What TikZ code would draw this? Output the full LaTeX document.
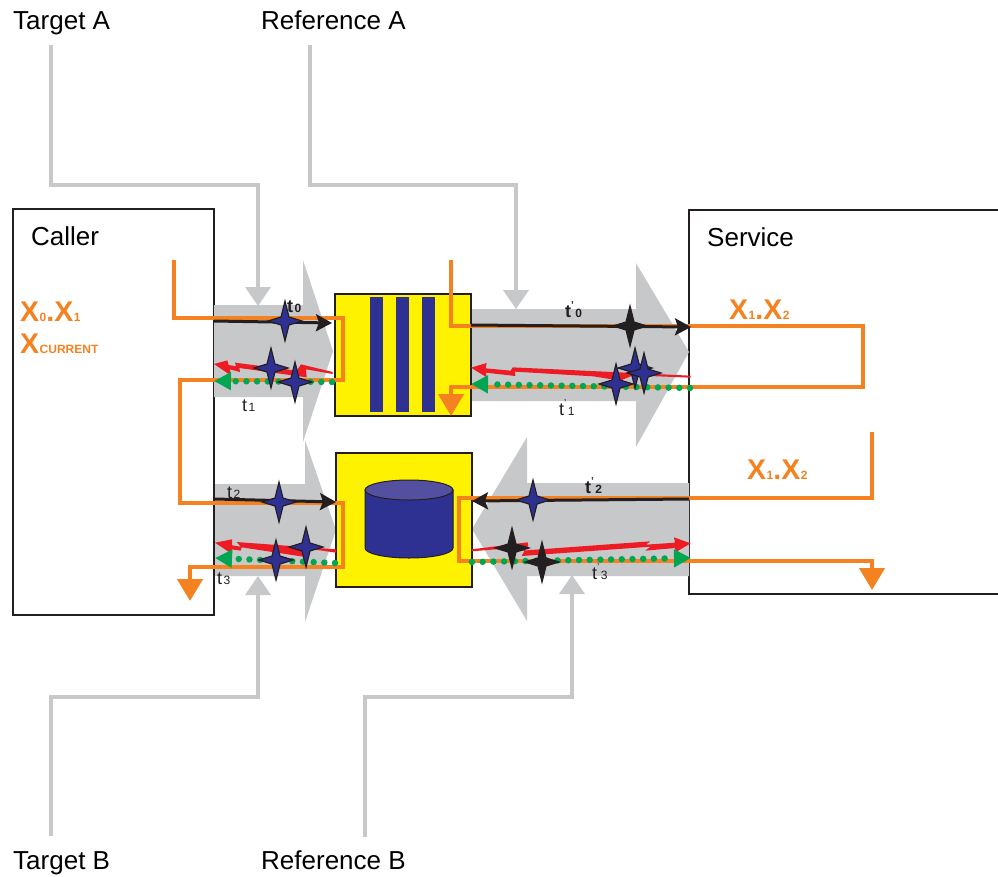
\documentclass[tikz,border=0pt]{standalone}
\usepackage{fontspec}
\setmainfont{Liberation Sans}
\usetikzlibrary{arrows.meta,calc}
\definecolor{lgray}{HTML}{C7C8CA}
\definecolor{orng}{HTML}{F58220}
\definecolor{yel}{HTML}{FFF200}
\definecolor{navy}{HTML}{2E3192}
\definecolor{navytop}{HTML}{5450A0}
\definecolor{ink}{HTML}{231F20}
\definecolor{redd}{HTML}{ED1C24}
\definecolor{grn}{HTML}{00A651}
\newcommand{\Xl}[2]{{\fontsize{28.5}{28}\selectfont\bfseries X\kern0.5pt{\fontsize{12}{12}\selectfont #1}.X\kern0.5pt{\fontsize{12}{12}\selectfont #2}}}
\newcommand{\tl}[1]{{\fontsize{18}{18}\selectfont t}\kern1.5pt{\fontsize{12}{12}\selectfont #1}}
\newcommand{\tp}[1]{{\fontsize{18}{18}\selectfont t}\raisebox{9pt}{\fontsize{10}{10}\selectfont '}\kern1.5pt{\fontsize{12}{12}\selectfont #1}}
\tikzset{
  x=1pt,y=-1pt,
  caption/.style={anchor=base west,inner sep=0,font=\fontsize{26}{30}\selectfont,text=black},
  xtext/.style={anchor=base west,inner sep=0,text=orng},
  tlabel/.style={anchor=base west,inner sep=0,text=ink},
  frame/.style={draw=ink,line width=1.5pt,fill=white,outer sep=0},
  chip/.style={draw=ink,line width=1.5pt,fill=yel,anchor=north west,inner sep=0,outer sep=0},
  bar/.style={fill=navy,anchor=north west,inner sep=0,outer sep=0,minimum width=13pt,minimum height=115pt},
  band/.style={fill=lgray},
  leader/.style={draw=lgray,line width=4pt,-{Triangle[length=19pt,width=25pt]},miter limit=10},
  route/.style={draw=orng,line width=4.5pt},
  routeend/.style={route,-{Triangle[length=22pt,width=25pt]}},
  msg/.style={draw=ink,line width=3pt,-{Stealth[length=16pt,width=17pt,inset=3pt]}},
  dots/.style={draw=grn,line width=6.5pt,dash pattern=on 0pt off 10.7pt,line cap=round,-{Triangle[length=17pt,width=17pt]}},
  bolt/.style={fill=redd},
  star/.style={draw=ink,line width=1.2pt,fill=navy,miter limit=10},
  kstar/.style={star,fill=ink},
}
\newcommand{\fourstar}[2][star]{\draw[#1] ($(#2)+(0,-20)$) -- ($(#2)+(4,-4)$) -- ($(#2)+(17,0)$) -- ($(#2)+(4,4)$) -- ($(#2)+(0,20)$) -- ($(#2)+(-4,4)$) -- ($(#2)+(-17,0)$) -- ($(#2)+(-4,-4)$) -- cycle;}
\begin{document}
\begin{tikzpicture}
\useasboundingbox (0,0) rectangle (998,876);
% outer frames
\node[frame,anchor=north west,inner sep=0,minimum width=201pt,minimum height=406pt] (caller) at (13,209) {};
\draw[ink,line width=1.5pt] (999,210) -- (689,210) -- (689,594) -- (999,594);
% gray bands
\fill[band] (214,305) -- (303,305) -- (303,260) -- (333,351) -- (303,442) -- (303,397) -- (214,397) -- cycle;
\fill[band] (470,309) -- (636,309) -- (636,263) -- (689,352) -- (636,447) -- (636,401) -- (470,401) -- cycle;
\fill[band] (215,484) -- (305,484) -- (305,440) -- (336,530) -- (305,622) -- (305,576) -- (215,576) -- cycle;
\fill[band] (689,483) -- (527,483) -- (527,437) -- (472,529) -- (527,621) -- (527,576) -- (689,576) -- cycle;
% boxes
\node[chip,minimum width=136pt,minimum height=122pt] (queue) at (335,294) {};
\node[bar] (b1) at (370,297) {};
\node[bar] (b2) at (396,297) {};
\node[bar] (b3) at (422,297) {};
\node[chip,minimum width=136pt,minimum height=134pt] (store) at (336,453) {};
\fill[navy,draw=ink,line width=1pt] (365,490) -- (365,548) arc[start angle=180,end angle=360,x radius=44,y radius=-10] -- (453,490) -- cycle;
\draw[fill=navytop,draw=ink,line width=1pt] (409,490) ellipse[x radius=44,y radius=10];
% captions
\node[caption] (ta) at (13,29) {Target A};
\node[caption] (ra) at (261,29) {Reference A};
\node[caption] (tb) at (13,869) {Target B};
\node[caption] (rb) at (261,869) {Reference B};
\node[caption] (cl) at (31,245) {Caller};
\node[caption] (sv) at (707,246) {Service};
% leaders
\coordinate (taS) at (51,45); \coordinate (taE) at (258,306);
\coordinate (raS) at (310,45); \coordinate (raE) at (516,309);
\coordinate (tbS) at (51,836); \coordinate (tbE) at (258,576);
\coordinate (rbS) at (365,837); \coordinate (rbE) at (572,575);
\draw[leader] (taS) -- (51,185) -- (258,185) -- (taE);
\draw[leader] (raS) -- (310,185) -- (516,185) -- (raE);
\draw[leader] (tbS) -- (51,697) -- (258,697) -- (tbE);
\draw[leader] (rbS) -- (365,697) -- (572,697) -- (rbE);
% orange routes
\coordinate (o1S) at (174,260); \coordinate (o1E) at (190,601);
\draw[routeend] (o1S) -- (174,318) -- (343,318) -- (343,380) -- (180,380) -- (180,503) -- (343,503) -- (343,567) -- (190,567) -- (o1E);
\coordinate (o2S) at (451,260); \coordinate (o2E) at (451,416);
\draw[routeend] (o2S) -- (451,326) -- (863,326) -- (863,387) -- (451,387) -- (o2E);
\coordinate (o3S) at (872,432); \coordinate (o3E) at (872,590);
\draw[routeend] (o3S) -- (872,498) -- (459,498) -- (459,561) -- (872,561) -- (o3E);
% red bolts
\begin{scope}[shift={(200,250)},scale=1/3]
\fill[bolt] (42,342) -- (82,331) -- (86,345) -- (108,349) -- (105,338) -- (290,362) -- (303,343) -- (398,366) -- (398,372) -- (318,358) -- (320,382) -- (118,354) -- (120,366) -- (90,358) -- (92,376) -- cycle;
\end{scope}
\begin{scope}[shift={(460,250)},scale=1/3]
\fill[bolt] (33,353) -- (80,339) -- (77,355) -- (152,362) -- (158,352) -- (692,377) -- (692,383) -- (520,376) -- (480,392) -- (400,379) -- (165,365) -- (166,378) -- (78,368) -- (80,382) -- cycle;
\end{scope}
\begin{scope}[shift={(170,430)},scale=1/3]
\fill[bolt] (135,338) -- (186,328) -- (186,346) -- (212,350) -- (200,336) -- (498,358) -- (498,368) -- (400,354) -- (400,380) -- (215,352) -- (212,362) -- (186,358) -- (186,372) -- cycle;
\end{scope}
\begin{scope}[shift={(460,430)},scale=1/3]
\fill[bolt] (35,358) -- (203,337) -- (205,348) -- (185,362) -- (570,334) -- (558,344) -- (645,338) -- (642,322) -- (692,340) -- (648,366) -- (645,354) -- (556,362) -- (572,350) -- (185,378) -- (200,350) -- (35,364) -- cycle;
\end{scope}
% green dotted
\coordinate (g1S) at (332,382); \coordinate (g1E) at (214,381);
\coordinate (g2S) at (690,388); \coordinate (g2E) at (471,384);
\coordinate (g3S) at (335,563); \coordinate (g3E) at (215,558);
\coordinate (g4S) at (472,562); \coordinate (g4E) at (691,558);
\draw[dots] (g1S) -- (g1E);
\draw[dots] (g2S) -- (g2E);
\draw[dots] (g3S) -- (g3E);
\draw[dots] (g4S) -- (g4E);
% black messages
\coordinate (m1S) at (214,321); \coordinate (m1E) at (332,323);
\coordinate (m2S) at (471,325); \coordinate (m2E) at (691,327);
\coordinate (m3S) at (215,499); \coordinate (m3E) at (336,502);
\coordinate (m4S) at (689,499); \coordinate (m4E) at (472,501);
\draw[msg] (m1S) -- (m1E);
\draw[msg] (m2S) -- (m2E);
\draw[msg] (m3S) -- (m3E);
\draw[msg] (m4S) -- (m4E);
% stars
\coordinate (s1) at (285,321); \coordinate (s2) at (271,368); \coordinate (s3) at (295,382);
\coordinate (s4) at (630,326); \coordinate (s5) at (635,368); \coordinate (s6) at (644,373); \coordinate (s7) at (616,384);
\coordinate (s8) at (279,502); \coordinate (s9) at (306,547); \coordinate (s10) at (276,560);
\coordinate (s11) at (533,500); \coordinate (s12) at (512,548); \coordinate (s13) at (542,562);
\fourstar{s1}
\fourstar{s2}
\fourstar{s3}
\fourstar[kstar]{s4}
\fourstar{s5}
\fourstar{s6}
\fourstar{s7}
\fourstar{s8}
\fourstar{s9}
\fourstar{s10}
\fourstar{s11}
\fourstar[kstar]{s12}
\fourstar[kstar]{s13}
% X labels
\node[xtext] (x1) at (20,321) {\Xl{0}{1}};
\node[xtext] (x2) at (20,353) {\fontsize{28.5}{28}\selectfont\bfseries X\kern0.5pt{\fontsize{12}{12}\selectfont CURRENT}};
\node[xtext] (x3) at (729,319) {\Xl{1}{2}};
\node[xtext] (x4) at (747,479) {\Xl{1}{2}};
% t labels
\node[tlabel,font=\bfseries] (t0) at (287,312) {\tl{0}};
\node[tlabel] (t1) at (242,411) {\tl{1}};
\node[tlabel] (t2) at (227,498) {\tl{2}};
\node[tlabel] (t3) at (217,584) {\tl{3}};
\node[tlabel,font=\bfseries] (tp0) at (565,317) {\tp{0}};
\node[tlabel] (tp1) at (559,415) {\tp{1}};
\node[tlabel,font=\bfseries] (tp2) at (585,493) {\tp{2}};
\node[tlabel] (tp3) at (592,579) {\tp{3}};
\end{tikzpicture}
\end{document}
